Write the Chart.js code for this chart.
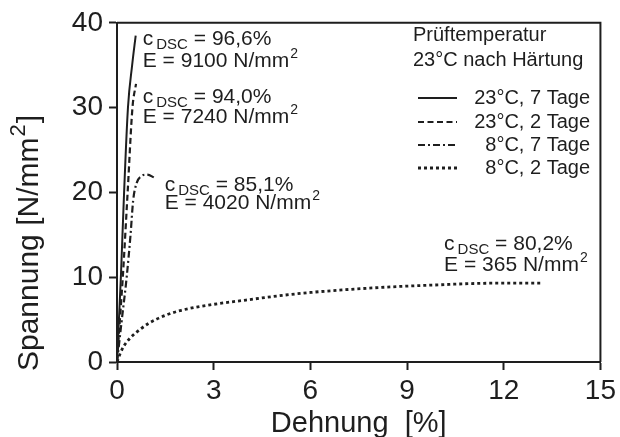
<!DOCTYPE html>
<html>
<head>
<meta charset="utf-8">
<script src="https://cdn.jsdelivr.net/npm/chart.js@4.4.1/dist/chart.umd.min.js"></script>
<style>
  html, body { margin: 0; padding: 0; background: #fff; }
  #wrap { width: 620px; height: 437px; position: relative; }
</style>
</head>
<body>
<div id="wrap"><canvas id="c"></canvas></div>
<script>
// Dehnung [%] / Spannung [N/mm²]
const solidX = [0, 0.06, 0.12, 0.22, 0.34, 0.47, 0.58];
const solidY = [0, 5, 10, 20, 30, 35, 38.5];

const dashedX = [0, 0.09, 0.18, 0.33, 0.48, 0.59];
const dashedY = [0, 5, 10, 20, 30, 32.8];

const dashDotX = [0, 0.15, 0.3, 0.42, 0.5, 0.6, 0.75, 0.93, 1.18];
const dashDotY = [0, 5, 10, 15, 19, 21, 21.9, 22.1, 21.7];

const dottedX = [0, 0.1, 0.2, 0.4, 0.7, 1.0, 1.5, 2, 3, 4, 5, 6, 7, 8, 9, 10, 11, 12, 13.2];
const dottedY = [0, 1, 1.8, 2.8, 3.8, 4.6, 5.5, 6.1, 6.8, 7.3, 7.8, 8.2, 8.5, 8.75, 8.95, 9.1, 9.25, 9.3, 9.3];

const seriesLabels = ['23°C, 7 Tage', '23°C, 2 Tage', '8°C, 7 Tage', '8°C, 2 Tage'];
const xTicks = [0, 3, 6, 9, 12, 15];
const yTicks = [0, 10, 20, 30, 40];

// annotation text: c_DSC and modulus
const cDsc = ['96,6%', '94,0%', '85,1%', '80,2%'];
const eMod = ['9100', '7240', '4020', '365'];
const notePos = [[0.8, 38.2, 35.6], [0.8, 31.4, 29.0], [1.48, 21.0, 18.9], [10.15, 14.0, 11.5]];

const FONT = '"Liberation Sans", Arial, Helvetica, sans-serif';
const INK = '#1e1e1e';

const pts = (xs, ys) => xs.map((x, i) => ({ x, y: ys[i] }));
const dashes = [[], [6, 3.5], [7, 3, 2, 3], [3, 3]];
const widths = [2, 2.2, 2.2, 2.8];

const frame = {
  id: 'frame',
  afterDraw(chart) {
    const { ctx, chartArea: a, scales } = chart;
    ctx.save();
    ctx.strokeStyle = INK;
    ctx.lineWidth = 2;
    ctx.beginPath();
    ctx.moveTo(a.left, a.top);
    ctx.lineTo(a.right, a.top);
    ctx.lineTo(a.right, a.bottom);
    ctx.stroke();

    // axis titles
    ctx.fillStyle = INK;
    ctx.font = '29px ' + FONT;
    ctx.textAlign = 'center';
    ctx.textBaseline = 'middle';
    ctx.fillText('Dehnung  [%]', (a.left + a.right) / 2, 424);

    ctx.save();
    ctx.translate(38, 243);
    ctx.rotate(-Math.PI / 2);
    ctx.textAlign = 'left';
    ctx.textBaseline = 'alphabetic';
    const p1 = 'Spannung [N/mm', p3 = ']';
    ctx.font = '30px ' + FONT;
    const w1 = ctx.measureText(p1).width, w3 = ctx.measureText(p3).width;
    ctx.font = '22px ' + FONT;
    const w2 = ctx.measureText('2').width;
    let sx = -(w1 + w2 + w3 + 2) / 2;
    ctx.font = '30px ' + FONT;
    ctx.fillText(p1, sx, 0);
    ctx.font = '22px ' + FONT;
    ctx.fillText('2', sx + w1 + 1, -13);
    ctx.font = '30px ' + FONT;
    ctx.fillText(p3, sx + w1 + w2 + 2, 0);
    ctx.restore();

    // annotations
    ctx.textAlign = 'left';
    ctx.textBaseline = 'alphabetic';
    notePos.forEach((p, i) => {
      let x = scales.x.getPixelForValue(p[0]);
      const y1 = scales.y.getPixelForValue(p[1]) + 7;
      const y2 = scales.y.getPixelForValue(p[2]) + 7;
      ctx.font = '21px ' + FONT;
      ctx.fillText('c', x, y1);
      let w = ctx.measureText('c').width + 3;
      ctx.font = '15px ' + FONT;
      ctx.fillText('DSC', x + w, y1 + 4);
      w += ctx.measureText('DSC').width;
      ctx.font = '21px ' + FONT;
      ctx.fillText(' = ' + cDsc[i], x + w, y1);
      const t = 'E = ' + eMod[i] + ' N/mm';
      ctx.fillText(t, x, y2);
      const w2 = ctx.measureText(t).width;
      ctx.font = '14px ' + FONT;
      ctx.fillText('2', x + w2 + 1, y2 - 9);
    });

    // legend
    ctx.font = '20px ' + FONT;
    ctx.textBaseline = 'middle';
    ctx.fillText('Prüftemperatur', 413, 35);
    ctx.fillText('23°C nach Härtung', 413, 60);
    const rows = [98, 122, 145, 168];
    chart.data.datasets.forEach((ds, i) => {
      ctx.save();
      ctx.strokeStyle = INK;
      ctx.lineWidth = widths[i];
      ctx.setLineDash(dashes[i]);
      ctx.beginPath();
      ctx.moveTo(418, rows[i]);
      ctx.lineTo(457, rows[i]);
      ctx.stroke();
      ctx.restore();
      ctx.textAlign = 'right';
      ctx.fillText(ds.label, 590, rows[i]);
    });
    ctx.restore();
  }
};

new Chart(document.getElementById('c'), {
  type: 'scatter',
  data: {
    datasets: [pts(solidX, solidY), pts(dashedX, dashedY), pts(dashDotX, dashDotY), pts(dottedX, dottedY)]
      .map((d, i) => ({
        label: seriesLabels[i],
        data: d,
        showLine: true,
        borderColor: INK,
        borderWidth: widths[i],
        borderDash: dashes[i],
        pointRadius: 0,
        cubicInterpolationMode: 'monotone',
        fill: false,
      }))
  },
  options: {
    responsive: true,
    maintainAspectRatio: false,
    animation: false,
    layout: { padding: { top: 20, right: 18, left: 0, bottom: 0 } },
    plugins: { legend: { display: false }, tooltip: { enabled: false } },
    scales: {
      x: {
        type: 'linear', min: 0, max: 15,
        afterBuildTicks: s => { s.ticks = xTicks.map(v => ({ value: v })); },
        afterFit: s => { s.height = 75; },
        grid: { drawOnChartArea: false, drawTicks: true, tickLength: 8, tickWidth: 2, tickColor: INK },
        border: { display: true, color: INK, width: 2 },
        ticks: { color: INK, font: { family: FONT, size: 28 }, padding: 4, maxRotation: 0 },
      },
      y: {
        type: 'linear', min: 0, max: 40,
        afterBuildTicks: s => { s.ticks = yTicks.map(v => ({ value: v })); },
        afterFit: s => { s.width = 117; },
        grid: { drawOnChartArea: false, drawTicks: true, tickLength: 8, tickWidth: 2, tickColor: INK },
        border: { display: true, color: INK, width: 2 },
        ticks: { color: INK, font: { family: FONT, size: 28 }, padding: 6 },
      }
    }
  },
  plugins: [frame]
});
</script>
</body>
</html>
